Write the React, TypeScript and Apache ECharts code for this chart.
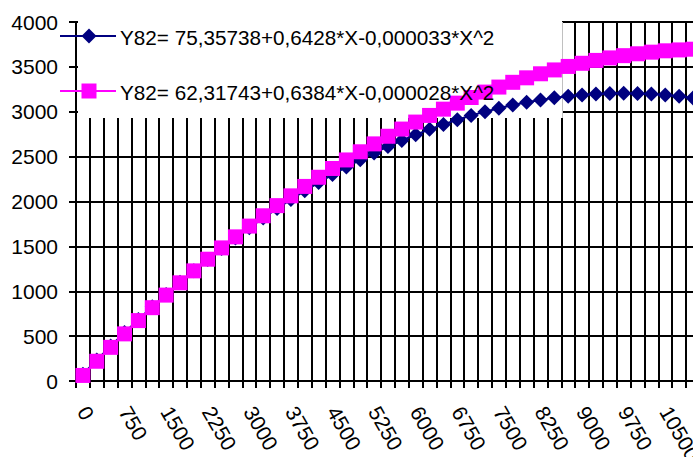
import React, { useEffect, useRef } from "react";
import * as echarts from "echarts";

const categories: string[] = [
  "0", "250", "500", "750", "1000", "1250", "1500", "1750", "2000", "2250",
  "2500", "2750", "3000", "3250", "3500", "3750", "4000", "4250", "4500", "4750",
  "5000", "5250", "5500", "5750", "6000", "6250", "6500", "6750", "7000", "7250",
  "7500", "7750", "8000", "8250", "8500", "8750", "9000", "9250", "9500", "9750",
  "10000", "10250", "10500", "10750", "11000",
];

const navyValues: number[] = [
  75, 234, 389, 539, 685, 827, 965, 1099, 1229, 1355,
  1476, 1594, 1707, 1816, 1921, 2022, 2119, 2211, 2300, 2384,
  2464, 2541, 2613, 2680, 2744, 2804, 2859, 2911, 2958, 3001,
  3040, 3075, 3106, 3132, 3155, 3173, 3188, 3198, 3204, 3206,
  3203, 3197, 3187, 3172, 3153,
];

const magentaValues: number[] = [
  62, 220, 375, 525, 673, 817, 957, 1094, 1227, 1357,
  1483, 1606, 1726, 1841, 1954, 2063, 2168, 2270, 2368, 2463,
  2554, 2642, 2727, 2807, 2885, 2959, 3029, 3096, 3159, 3219,
  3275, 3328, 3378, 3423, 3466, 3505, 3540, 3572, 3600, 3625,
  3646, 3664, 3679, 3689, 3697,
];

const navyLabel = "Y82= 75,35738+0,6428*X-0,000033*X^2";
const magentaLabel = "Y82= 62,31743+0,6384*X-0,000028*X^2";

const FONT = "'Liberation Sans', Arial, sans-serif";

export default function App() {
  const ref = useRef<HTMLDivElement>(null);

  useEffect(() => {
    if (!ref.current) return;
    const chart = echarts.init(ref.current, null, { renderer: "svg" });
    const catW = 13.865;
    chart.setOption({
      animation: false,
      backgroundColor: "#ffffff",
      textStyle: { fontFamily: FONT },
      grid: {
        left: 76,
        top: 22,
        width: catW * categories.length,
        height: 359,
        show: true,
        borderColor: "#808080",
        borderWidth: 2,
        backgroundColor: "#ffffff",
        containLabel: false,
        outerBoundsMode: "none",
      },
      xAxis: {
        type: "category",
        data: categories,
        boundaryGap: true,
        axisLine: { show: true, lineStyle: { color: "#000", width: 2 } },
        axisTick: { show: true, interval: 0, length: 7, lineStyle: { color: "#000", width: 2 } },
        axisLabel: {
          interval: 2,
          rotate: -60,
          margin: 27,
          color: "#000",
          fontSize: 21,
          fontFamily: FONT,
        },
        splitLine: { show: true, interval: 0, lineStyle: { color: "#000", width: 2 } },
      },
      yAxis: {
        type: "value",
        min: 0,
        max: 4000,
        interval: 500,
        axisLine: { show: true, lineStyle: { color: "#000", width: 2 } },
        axisTick: { show: true, length: 7, lineStyle: { color: "#000", width: 2 } },
        axisLabel: {
          margin: 18,
          color: "#000",
          fontSize: 21,
          fontFamily: FONT,
          formatter: (v: number) => String(v),
        },
        splitLine: { show: true, lineStyle: { color: "#000", width: 2 } },
      },
      series: [
        {
          type: "line",
          name: navyLabel,
          data: navyValues,
          symbol: "diamond",
          symbolSize: 15,
          showAllSymbol: true,
          itemStyle: { color: "#000080" },
          lineStyle: { color: "#000080", width: 2 },
          z: 3,
        },
        {
          type: "line",
          name: magentaLabel,
          data: magentaValues,
          symbol: "rect",
          symbolSize: 15,
          showAllSymbol: true,
          itemStyle: { color: "#ff00ff" },
          lineStyle: { color: "#ff00ff", width: 2 },
          z: 4,
        },
      ],
      graphic: [
        {
          type: "rect",
          z: 1,
          shape: { x: 78, y: 0, width: 484, height: 118 },
          style: { fill: "#ffffff" },
        },
        {
          type: "line",
          z: 1,
          shape: { x1: 562.5, y1: 22, x2: 562.5, y2: 118 },
          style: { stroke: "#c0c0c0", lineWidth: 1 },
        },
        {
          type: "line",
          z: 10,
          shape: { x1: 60, y1: 36, x2: 116, y2: 36 },
          style: { stroke: "#000080", lineWidth: 2 },
        },
        {
          type: "polygon",
          z: 10,
          shape: { points: [[89, 28.5], [96.5, 36], [89, 43.5], [81.5, 36]] },
          style: { fill: "#000080" },
        },
        {
          type: "text",
          z: 10,
          x: 120,
          y: 37,
          style: {
            text: navyLabel,
            fill: "#000",
            font: `20.7px ${FONT}`,
            textVerticalAlign: "middle",
            verticalAlign: "middle",
          },
        },
        {
          type: "line",
          z: 10,
          shape: { x1: 60, y1: 91, x2: 116, y2: 91 },
          style: { stroke: "#ff00ff", lineWidth: 2 },
        },
        {
          type: "rect",
          z: 10,
          shape: { x: 81.5, y: 83.5, width: 15, height: 15 },
          style: { fill: "#ff00ff" },
        },
        {
          type: "text",
          z: 10,
          x: 120,
          y: 92,
          style: {
            text: magentaLabel,
            fill: "#000",
            font: `20.7px ${FONT}`,
            textVerticalAlign: "middle",
            verticalAlign: "middle",
          },
        },
      ],
    });
    return () => {
      chart.dispose();
    };
  }, []);

  return (
    <div
      style={{
        position: "fixed",
        left: 0,
        top: 0,
        width: 693,
        height: 457,
        overflow: "hidden",
        background: "#fff",
      }}
    >
      <div ref={ref} style={{ width: 720, height: 457 }} />
    </div>
  );
}
